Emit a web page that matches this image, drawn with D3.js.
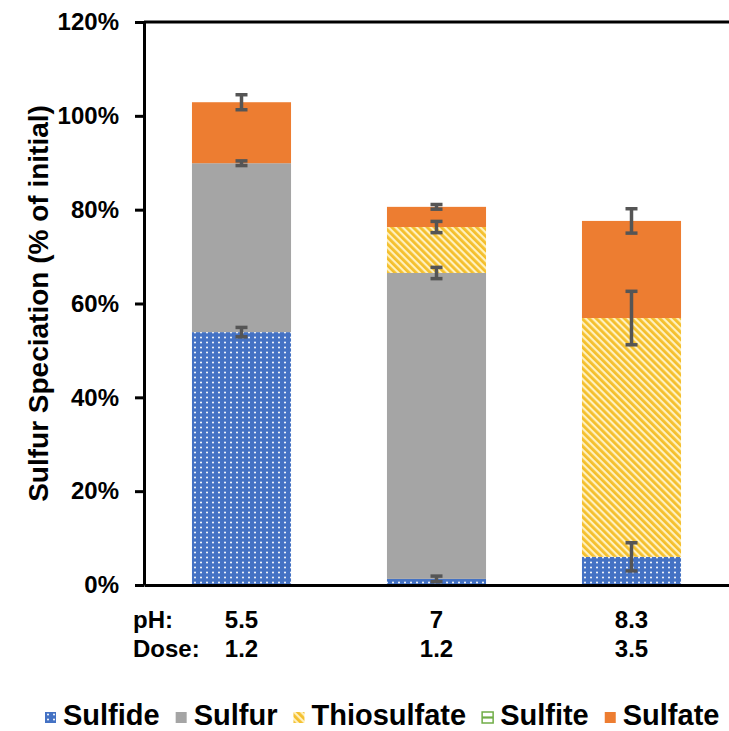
<!DOCTYPE html>
<html>
<head>
<meta charset="utf-8">
<script src="https://cdn.jsdelivr.net/npm/d3@7/dist/d3.min.js"></script>
<style>
  html, body { margin: 0; padding: 0; background: #fff; }
  svg { display: block; font-family: "Liberation Sans", Arial, sans-serif; font-weight: bold; }
</style>
</head>
<body>
<svg id="chart" width="729" height="731"></svg>
<script>
// Treatment conditions
const categories = ["A", "B", "C"];
const phLabels = ["5.5", "7", "8.3"];
const doseLabels = ["1.2", "1.2", "3.5"];

// Sulfur species as a fraction of initial sulfur
const seriesNames = ["Sulfide", "Sulfur", "Thiosulfate", "Sulfite", "Sulfate"];
const sulfide     = [0.539, 0.013, 0.060];
const sulfur      = [0.360, 0.652, 0.000];
const thiosulfate = [0.000, 0.098, 0.509];
const sulfite     = [0.000, 0.000, 0.000];
const sulfate     = [0.130, 0.043, 0.207];

// Standard deviations (error bars at the top of each stacked segment)
const sulfideErr     = [0.010, 0.006, 0.030];
const sulfurErr      = [0.005, 0.012, 0.000];
const thiosulfateErr = [0.000, 0.012, 0.057];
const sulfiteErr     = [0.000, 0.000, 0.000];
const sulfateErr     = [0.016, 0.005, 0.026];

const yTicks = [0, 0.2, 0.4, 0.6, 0.8, 1.0, 1.2];

const values = [sulfide, sulfur, thiosulfate, sulfite, sulfate];
const errors = [sulfideErr, sulfurErr, thiosulfateErr, sulfiteErr, sulfateErr];

const rows = categories.map((c, i) => {
  const r = { cat: c };
  seriesNames.forEach((s, k) => { r[s] = values[k][i]; });
  return r;
});

const svg = d3.select("#chart");
const margin = { left: 144, right: 0, top: 22, bottom: 146 };
const W = 729, H = 731;

const x = d3.scaleBand()
  .domain(categories)
  .range([margin.left, W - margin.right])
  .paddingInner(0.492)
  .paddingOuter(0.246);

const y = d3.scaleLinear()
  .domain([0, 1.2])
  .range([H - margin.bottom, margin.top]);

// Fill patterns
const defs = svg.append("defs");

const dots = defs.append("pattern")
  .attr("id", "pat-sulfide")
  .attr("patternUnits", "userSpaceOnUse")
  .attr("width", 6).attr("height", 5);
dots.append("rect").attr("width", 6).attr("height", 5).attr("fill", "#4472C4");
dots.append("circle").attr("cx", 3).attr("cy", 2.5).attr("r", 1).attr("fill", "#ffffff");

const stripes = defs.append("pattern")
  .attr("id", "pat-thio")
  .attr("patternUnits", "userSpaceOnUse")
  .attr("width", 5).attr("height", 5)
  .attr("patternTransform", "rotate(-45)");
stripes.append("rect").attr("width", 5).attr("height", 5).attr("fill", "#FFF1C0");
stripes.append("rect").attr("width", 2.8).attr("height", 5).attr("fill", "#F4BF2C");

// Sulfite: white with a single horizontal rule through the middle of the shape
const hlines = defs.append("pattern")
  .attr("id", "pat-sulfite")
  .attr("patternUnits", "objectBoundingBox")
  .attr("patternContentUnits", "objectBoundingBox")
  .attr("width", 1).attr("height", 1);
hlines.append("rect").attr("width", 1).attr("height", 1).attr("fill", "#ffffff");
hlines.append("rect").attr("y", 0.4).attr("width", 1).attr("height", 0.2).attr("fill", "#70AD47");

const fills = {
  "Sulfide": "url(#pat-sulfide)",
  "Sulfur": "#A5A5A5",
  "Thiosulfate": "url(#pat-thio)",
  "Sulfite": "url(#pat-sulfite)",
  "Sulfate": "#ED7D31"
};

// Stacked bars
const stacked = d3.stack().keys(seriesNames)(rows);

svg.append("g").selectAll("g")
  .data(stacked)
  .join("g")
  .attr("fill", d => fills[d.key])
  .selectAll("rect")
  .data(d => d.filter(p => p[1] - p[0] > 0))
  .join("rect")
  .attr("x", d => x(d.data.cat))
  .attr("width", x.bandwidth())
  .attr("y", d => y(d[1]))
  .attr("height", d => y(d[0]) - y(d[1]));

// Error bars
const errData = [];
stacked.forEach((layer, k) => {
  layer.forEach((p, i) => {
    const e = errors[k][i];
    if (values[k][i] > 0 && e > 0) {
      errData.push({ cat: categories[i], top: p[1], err: e });
    }
  });
});

const eb = svg.append("g")
  .attr("stroke", "#555555")
  .attr("stroke-width", 3.5)
  .selectAll("g")
  .data(errData)
  .join("g");
eb.append("line")
  .attr("x1", d => x(d.cat) + x.bandwidth() / 2)
  .attr("x2", d => x(d.cat) + x.bandwidth() / 2)
  .attr("y1", d => y(d.top + d.err))
  .attr("y2", d => y(d.top - d.err));
eb.append("line")
  .attr("x1", d => x(d.cat) + x.bandwidth() / 2 - 6)
  .attr("x2", d => x(d.cat) + x.bandwidth() / 2 + 6)
  .attr("y1", d => y(d.top + d.err))
  .attr("y2", d => y(d.top + d.err));
eb.append("line")
  .attr("x1", d => x(d.cat) + x.bandwidth() / 2 - 6)
  .attr("x2", d => x(d.cat) + x.bandwidth() / 2 + 6)
  .attr("y1", d => y(d.top - d.err))
  .attr("y2", d => y(d.top - d.err));

// Y axis
const yAxis = svg.append("g")
  .attr("transform", `translate(${margin.left},0)`)
  .call(d3.axisLeft(y).tickValues(yTicks).tickFormat(d3.format(".0%"))
    .tickSize(9).tickSizeOuter(0).tickPadding(16));
yAxis.select(".domain").attr("stroke", "#000").attr("stroke-width", 3);
yAxis.selectAll(".tick line").attr("stroke", "#000").attr("stroke-width", 3);
yAxis.selectAll(".tick text")
  .attr("fill", "#000")
  .style("font-size", "24px")
  .style("font-family", "'Liberation Sans', Arial, sans-serif")
  .style("font-weight", "bold");

// Top frame line
svg.append("line")
  .attr("x1", margin.left).attr("x2", W)
  .attr("y1", y(1.2)).attr("y2", y(1.2))
  .attr("stroke", "#000").attr("stroke-width", 3);

// X axis with pH labels
const xAxis = svg.append("g")
  .attr("transform", `translate(0,${y(0)})`)
  .call(d3.axisBottom(x).tickFormat((d, i) => phLabels[i]).tickSize(0).tickPadding(26));
xAxis.select(".domain").attr("stroke", "#000").attr("stroke-width", 3);
xAxis.selectAll(".tick text")
  .attr("fill", "#000")
  .style("font-size", "24px")
  .style("font-family", "'Liberation Sans', Arial, sans-serif")
  .style("font-weight", "bold");

svg.append("text")
  .attr("x", 133).attr("y", 628)
  .style("font-size", "24px")
  .text("pH:");
svg.append("text")
  .attr("x", 133).attr("y", 657)
  .style("font-size", "24px")
  .text("Dose:");
svg.append("g").selectAll("text")
  .data(categories)
  .join("text")
  .attr("x", d => x(d) + x.bandwidth() / 2)
  .attr("y", 657)
  .attr("text-anchor", "middle")
  .style("font-size", "24px")
  .text((d, i) => doseLabels[i]);

// Y axis title
svg.append("text")
  .attr("transform", `translate(48,${(y(0) + y(1.2)) / 2}) rotate(-90)`)
  .attr("text-anchor", "middle")
  .style("font-size", "28px")
  .text("Sulfur Speciation (% of initial)");

// Legend
const legend = svg.append("g").attr("transform", "translate(45,717)");
let lx = 0;
seriesNames.forEach(name => {
  const g = legend.append("g").attr("transform", `translate(${lx},0)`);
  const sw = g.append("rect")
    .attr("x", 0).attr("y", -5).attr("width", 11).attr("height", 11)
    .attr("fill", fills[name]);
  if (name === "Sulfite") sw.attr("stroke", "#70AD47").attr("stroke-width", 1.5);
  const t = g.append("text")
    .attr("x", 18).attr("y", 8)
    .style("font-size", "29px")
    .text(name);
  lx += 18 + t.node().getComputedTextLength() + 16;
});
</script>
</body>
</html>
